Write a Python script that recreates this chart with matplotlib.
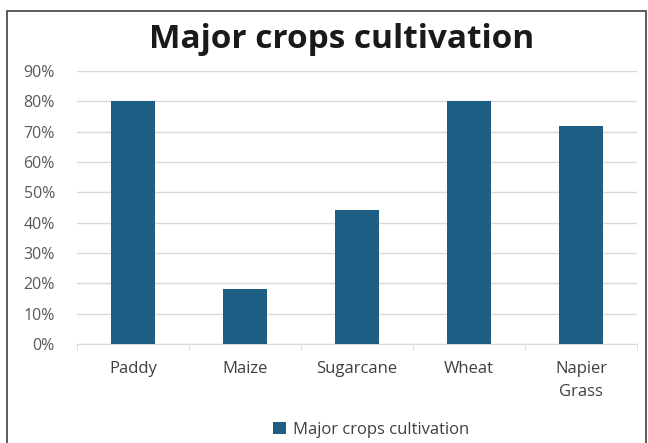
import matplotlib
matplotlib.use("Agg")
import matplotlib.pyplot as plt
from matplotlib.patches import Rectangle
from matplotlib.ticker import PercentFormatter, FixedLocator

categories = ["Paddy", "Maize", "Sugarcane", "Wheat", "Napier\nGrass"]
values = [0.80, 0.18, 0.44, 0.80, 0.72]
series_name = "Major crops cultivation"

plt.rcParams["font.family"] = ["Open Sans", "DejaVu Sans"]

bar_color = "#1d5e84"
grid_color = "#d9d9d9"
text_color = "#595959"

fig = plt.figure(figsize=(6.48, 4.43), dpi=100)
ax = fig.add_axes([0.119, 0.2235, 0.864, 0.6165])

x = list(range(len(categories)))
ax.bar(x, values, width=0.4, color=bar_color, label=series_name, zorder=3)

ax.set_xlim(-0.5, len(categories) - 0.5)
ax.set_ylim(0, 0.9)
ax.set_yticks([i / 10 for i in range(10)])
ax.yaxis.set_major_formatter(PercentFormatter(1.0, decimals=0))
ax.set_xticks(x)
ax.set_xticklabels(categories, linespacing=1.6)
ax.xaxis.set_minor_locator(FixedLocator([i - 0.5 for i in range(len(categories) + 1)]))

ax.grid(axis="y", color=grid_color, linewidth=1, zorder=0)
for side in ("top", "right", "left"):
    ax.spines[side].set_visible(False)
ax.spines["bottom"].set_color(grid_color)

ax.tick_params(axis="y", length=0, labelsize=11.5, labelcolor=text_color, pad=16)
ax.tick_params(axis="x", which="major", length=0, labelsize=12, labelcolor="#404040", pad=12)
ax.tick_params(axis="x", which="minor", length=4, color=grid_color)

fig.text(0.527, 0.91, series_name, ha="center", va="center",
         fontsize=24, fontweight="bold", color="#1a1a1a")

fig.legend(loc="center", bbox_to_anchor=(0.572, 0.03), frameon=False,
           fontsize=12, handlelength=0.8, handleheight=0.8, handletextpad=0.4,
           labelcolor="#404040")

fig.patches.append(Rectangle((7 / 648, -0.01), 639 / 648, 1 - 11 / 443 + 0.01,
                             transform=fig.transFigure, fill=False,
                             edgecolor="#3f3f3f", linewidth=1.2))

fig.savefig("out.png", dpi=100)
